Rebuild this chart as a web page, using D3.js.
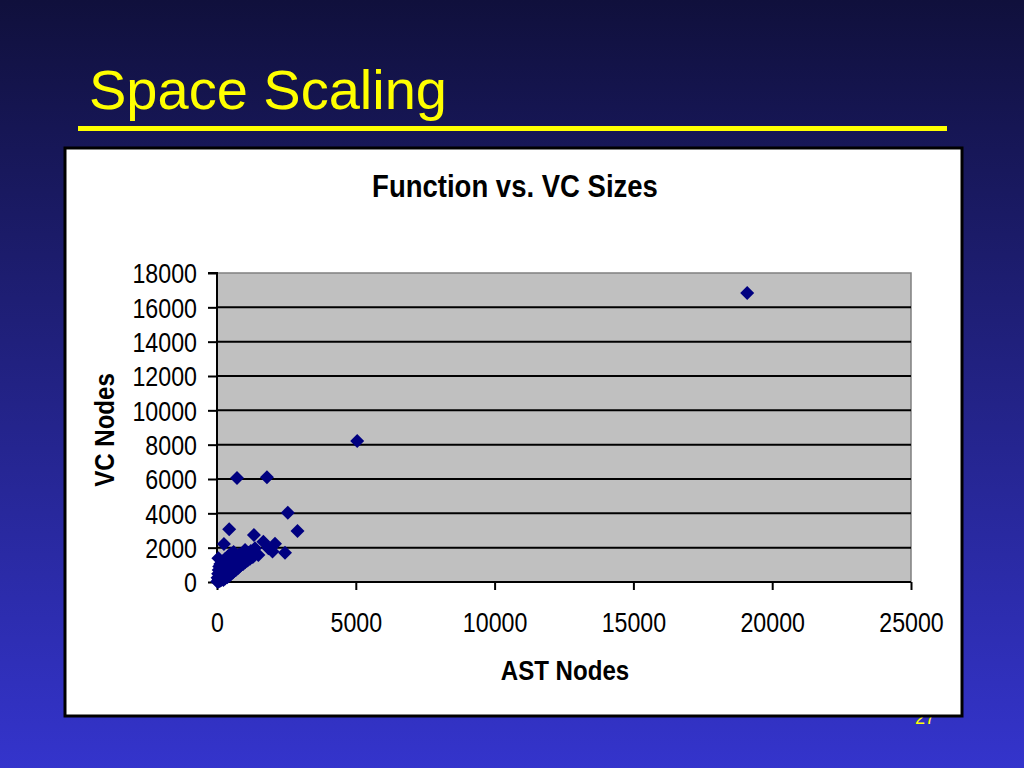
<!DOCTYPE html>
<html><head><meta charset="utf-8">
<script src="https://cdn.jsdelivr.net/npm/d3@7"></script>
<style>html,body{margin:0;padding:0;overflow:hidden;background:#1a1a60}</style>
</head><body>
<script>
// ---- data ----
const slideTitle = "Space Scaling";
const chartTitle = "Function vs. VC Sizes";
const xLabel = "AST Nodes";
const yLabel = "VC Nodes";
const pageNumber = "27";
const xTicks = [0, 5000, 10000, 15000, 20000, 25000];
const yTicks = [0, 2000, 4000, 6000, 8000, 10000, 12000, 14000, 16000, 18000];
const astNodes = [19100, 5050, 1800, 720, 2550, 2900, 440, 250, 1330, 2450, 2090, 1670, 1850, 1370, 1490, 2000, 1010, 890, 710, 530,
  10, 40, 60, 90, 20, 110, 130, 150, 170, 40, 190, 210, 230, 250, 270, 290, 60, 310, 330, 350, 370, 390, 410, 430, 450, 80,
  470, 490, 510, 530, 550, 570, 120, 590, 610, 630, 650, 670, 690, 200, 710, 730, 750, 770, 790, 810, 300, 830, 850, 870,
  400, 890, 910, 940, 500, 960, 980, 1010, 600, 1040, 1070, 1100, 1130, 1160, 1190, 1220, 1250, 1290, 330, 250, 180, 450,
  650, 800, 950, 50];
const vcNodes = [16830, 8210, 6100, 6060, 4040, 2970, 3070, 2210, 2740, 1700, 2230, 2350, 1960, 1960, 1570, 1770, 1860, 1480, 1180, 1570,
  30, 10, 120, 60, 250, 200, 90, 320, 150, 480, 260, 380, 120, 450, 300, 200, 700, 520, 400, 620, 280, 480, 700, 560, 380, 900,
  800, 650, 480, 880, 720, 560, 1050, 950, 800, 650, 1050, 880, 720, 1200, 1150, 950, 800, 1250, 1050, 900, 1350, 1300, 1150, 1000,
  1500, 1400, 1200, 1050, 1650, 1500, 1300, 1150, 1750, 1600, 1400, 1250, 1700, 1500, 1350, 1800, 1600, 1450, 1000, 800, 600, 1200,
  1400, 1600, 1700, 1380];

const W = 1024, H = 768;
const SX = 0.86; // horizontal condensing of the chart's text
const fontFam = "Liberation Sans, Arial, sans-serif";
const svg = d3.select("body").append("svg").attr("width", W).attr("height", H);
const defs = svg.append("defs");
const grad = defs.append("linearGradient").attr("id", "bg").attr("x1", 0).attr("y1", 0).attr("x2", 0).attr("y2", 1);
grad.append("stop").attr("offset", "0%").attr("stop-color", "#10103c");
grad.append("stop").attr("offset", "100%").attr("stop-color", "#3434cc");
svg.append("rect").attr("width", W).attr("height", H).attr("fill", "url(#bg)");

// slide title
svg.append("text").attr("x", 89).attr("y", 109).attr("fill", "#ffff00")
  .attr("font-family", fontFam).attr("font-size", 56).text(slideTitle);
svg.append("rect").attr("x", 78).attr("y", 126).attr("width", 869).attr("height", 5).attr("fill", "#ffff00");

// page number (partly hidden behind chart box)
svg.append("text").attr("x", 925).attr("y", 724).attr("text-anchor", "middle").attr("fill", "#ffff00")
  .attr("font-family", fontFam).attr("font-size", 18).text(pageNumber);

// chart box
svg.append("rect").attr("x", 65).attr("y", 148).attr("width", 897).attr("height", 568)
  .attr("fill", "#ffffff").attr("stroke", "#000000").attr("stroke-width", 3);

svg.append("text").attr("transform", `translate(515,197) scale(${SX},1)`).attr("text-anchor", "middle")
  .attr("font-family", fontFam).attr("font-weight", "bold").attr("font-size", 32)
  .attr("fill", "#000").text(chartTitle);

const x = d3.scaleLinear().domain([0, 25000]).range([217, 911]);
const y = d3.scaleLinear().domain([0, 18000]).range([582, 273]);

// plot area
svg.append("rect").attr("x", x(0)).attr("y", y(18000)).attr("width", x(25000) - x(0)).attr("height", y(0) - y(18000))
  .attr("fill", "#c0c0c0").attr("stroke", "#808080").attr("stroke-width", 1.5);

svg.append("g").selectAll("line").data(yTicks.filter(v => v > 0 && v < 18000)).join("line")
  .attr("x1", x(0)).attr("x2", x(25000)).attr("y1", d => y(d)).attr("y2", d => y(d))
  .attr("stroke", "#000").attr("stroke-width", 2);

const yAxis = svg.append("g").attr("transform", `translate(${x(0)},0)`)
  .call(d3.axisLeft(y).tickValues(yTicks).tickSize(9).tickPadding(11).tickFormat(d3.format("d")));
const xAxis = svg.append("g").attr("transform", `translate(0,${y(0)})`)
  .call(d3.axisBottom(x).tickValues(xTicks).tickSize(8).tickPadding(23).tickFormat(d3.format("d")));
[yAxis, xAxis].forEach(a => {
  a.select(".domain").attr("stroke", "#000").attr("stroke-width", 2);
  a.selectAll(".tick line").attr("stroke", "#000").attr("stroke-width", 2);
  a.selectAll("text").attr("font-family", fontFam).attr("font-size", 27).attr("fill", "#000")
    .attr("transform", `scale(${SX},1)`);
});
yAxis.selectAll(".tick text").attr("x", -20 / SX).attr("dy", "0.36em");
xAxis.selectAll(".tick text").attr("y", 31).attr("dy", "0.71em");
yAxis.select(".domain").attr("d", `M-9,${y(18000)}H0V${y(0)}`);
xAxis.select(".domain").attr("d", `M${x(0)},0H${x(25000)}`);

// axis labels
svg.append("text").attr("transform", `translate(565,680) scale(${SX},1)`).attr("text-anchor", "middle")
  .attr("font-family", fontFam).attr("font-weight", "bold").attr("font-size", 28).text(xLabel);
svg.append("text").attr("transform", `translate(114,430) rotate(-90) scale(${SX},1)`).attr("text-anchor", "middle")
  .attr("font-family", fontFam).attr("font-weight", "bold").attr("font-size", 28).text(yLabel);

// points
const pts = astNodes.map((a, i) => ({ a, v: vcNodes[i] }));
const sym = d3.symbol().type(d3.symbolSquare).size(98);
svg.append("g").selectAll("path").data(pts).join("path")
  .attr("d", sym)
  .attr("transform", d => `translate(${x(d.a)},${y(d.v)}) rotate(45)`)
  .attr("fill", "#000080");
</script>
</body></html>
